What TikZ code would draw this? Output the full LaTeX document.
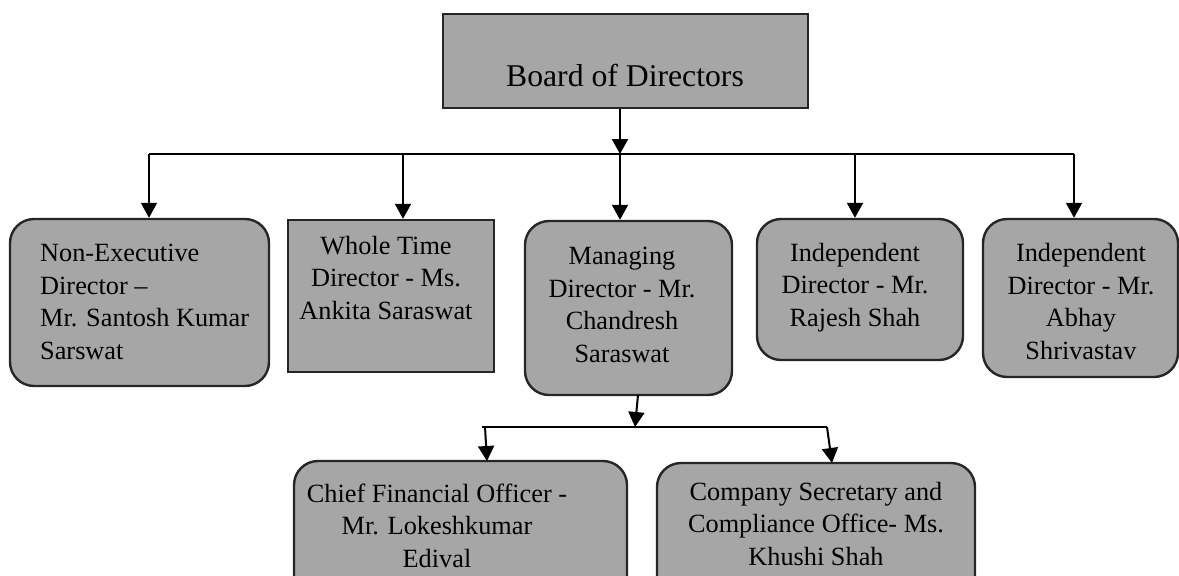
\documentclass[tikz,border=0pt]{standalone}
\usepackage{fontspec}
\setmainfont{Liberation Serif}
\usetikzlibrary{arrows.meta}
\definecolor{boxfill}{HTML}{A6A6A6}
\definecolor{boxline}{HTML}{262626}
\begin{document}
\begin{tikzpicture}[x=1pt,y=-1pt,
  box/.style={draw=boxline,line width=2.4pt,fill=boxfill,inner sep=0pt,
    minimum width=#1},
  rbox/.style={box=#1,rounded corners=24pt},
  txt/.style={inner sep=0pt,align=center,anchor=base,
    font=\fontsize{26.3}{32.4}\selectfont},
  arr/.style={line width=2pt,-{Triangle[length=15pt,width=16pt]}},
  bus/.style={line width=2pt}]
\useasboundingbox (0,0) rectangle (1179,576);
% boxes
\node[box=365pt,minimum height=94pt] (board) at (625.5,61) {};
\node[rbox=259pt,minimum height=167pt] (ned) at (139.5,302.5) {};
\node[box=206pt,minimum height=152pt] (wtd) at (391,296) {};
\node[rbox=207pt,minimum height=174pt] (mgr) at (628.5,308) {};
\node[rbox=206pt,minimum height=141pt] (raj) at (860,289.5) {};
\node[rbox=195pt,minimum height=158pt] (abh) at (1080.5,298) {};
\node[rbox=333pt,minimum height=139pt] (cfo) at (460.5,530.5) {};
\node[rbox=318pt,minimum height=137pt] (cs) at (816,531.5) {};
% texts (anchor = baseline of last line)
\node[txt,font=\fontsize{31.7}{38}\selectfont] (tboard) at (625,86) {Board of Directors};
\node[txt,anchor=base west,align=left] (tned) at (40,359) {Non-Executive\\Director –\\Mr. Santosh Kumar\\Sarswat};
\node[txt] (twtd) at (386,319) {Whole Time\\Director - Ms.\\Ankita Saraswat};
\node[txt] (tmgr) at (622,362) {Managing\\Director - Mr.\\Chandresh\\Saraswat};
\node[txt] (traj) at (855,326) {Independent\\Director - Mr.\\Rajesh Shah};
\node[txt] (tabh) at (1081,359) {Independent\\Director - Mr.\\Abhay\\Shrivastav};
\node[txt] (tcfo) at (437,567) {Chief Financial Officer -\\Mr. Lokeshkumar\\Edival};
\node[txt] (tcs) at (816,565) {Company Secretary and\\Compliance Office- Ms.\\Khushi Shah};
% top bus
\coordinate (busL) at (149,154);
\coordinate (busR) at (1074,154);
\coordinate (busM) at (620,154);
\coordinate (busW) at (403,154);
\coordinate (busI) at (855,154);
\draw[bus] (busL) -- (busR);
\draw[arr] (board.south -| busM) -- (busM);
\draw[arr] (busL) -- (busL |- ned.north);
\draw[arr] (busW) -- (busW |- wtd.north);
\draw[arr] (busM) -- (busM |- mgr.north);
\draw[arr] (busI) -- (busI |- raj.north);
\draw[arr] (busR) -- (busR |- abh.north);
% bottom bus
\coordinate (sbL) at (482,427);
\coordinate (sbR) at (827,427);
\coordinate (sbM) at (635,427);
\coordinate (mgrOut) at (638,395);
\coordinate (cfoIn) at (487,461);
\coordinate (csIn) at (832,463);
\coordinate (cfoTop) at (485,427);
\draw[bus] (sbL) -- (sbR);
\draw[arr] (mgrOut) -- (sbM);
\draw[arr] (cfoTop) -- (cfoIn);
\draw[arr] (sbR) -- (csIn);
\end{tikzpicture}
\end{document}
